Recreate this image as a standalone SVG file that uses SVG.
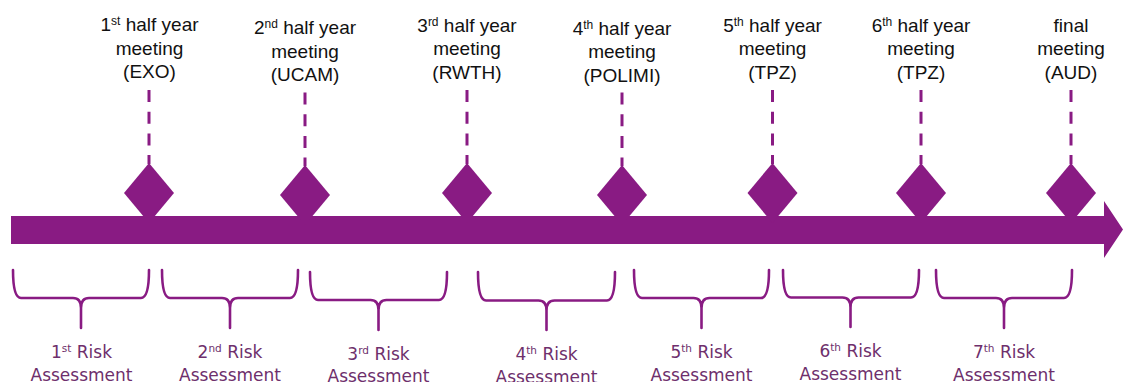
<svg xmlns="http://www.w3.org/2000/svg" width="1123" height="382" viewBox="0 0 1123 382">
<style>
.top{font-family:"Liberation Sans",Arial,sans-serif;font-size:19px;fill:#111;text-anchor:middle}
.bot{font-family:"DejaVu Sans",sans-serif;font-size:17px;fill:#6E2F6C;text-anchor:middle}
.sup{font-size:12px}
.bsup{font-size:10.5px}
.dash{stroke:#891B83;stroke-width:3;stroke-dasharray:12 9.7;fill:none}
.brace{stroke:#891B83;stroke-width:2.6;fill:none;stroke-linecap:round;stroke-linejoin:round}
.dia{fill:#891B83}
</style>
<rect width="1123" height="382" fill="#fff"/>
<g id="timeline">
<path d="M11,216 L1104,216 L1104,201 L1123,229.5 L1104,258 L1104,244 L11,244 Z" fill="#891B83"/>
</g>
<g id="connectors">
<line class="dash" x1="149" y1="90" x2="149" y2="164"/>
<line class="dash" x1="305" y1="92.5" x2="305" y2="166"/>
<line class="dash" x1="467" y1="90" x2="467" y2="164"/>
<line class="dash" x1="622" y1="92.5" x2="622" y2="166"/>
<line class="dash" x1="772.5" y1="90" x2="772.5" y2="164"/>
<line class="dash" x1="921" y1="90" x2="921" y2="164"/>
<line class="dash" x1="1071" y1="90" x2="1071" y2="164"/>
</g>
<g id="m1">
<polygon class="dia" points="149,163 174,193 149,223 124,193"/>
<text class="top" x="149.5" y="31">1<tspan class="sup" dy="-6">st</tspan><tspan dy="6"> half year</tspan></text>
<text class="top" x="149.5" y="54.5">meeting</text>
<text class="top" x="149.5" y="78">(EXO)</text>
</g>
<g id="m2">
<polygon class="dia" points="305,165 330,195 305,225 280,195"/>
<text class="top" x="305" y="34">2<tspan class="sup" dy="-6">nd</tspan><tspan dy="6"> half year</tspan></text>
<text class="top" x="305" y="57.5">meeting</text>
<text class="top" x="305" y="81">(UCAM)</text>
</g>
<g id="m3">
<polygon class="dia" points="467,163 492,193 467,223 442,193"/>
<text class="top" x="467" y="32">3<tspan class="sup" dy="-6">rd</tspan><tspan dy="6"> half year</tspan></text>
<text class="top" x="467" y="55">meeting</text>
<text class="top" x="467" y="78.5">(RWTH)</text>
</g>
<g id="m4">
<polygon class="dia" points="622,165 647,195 622,225 597,195"/>
<text class="top" x="622" y="34.5">4<tspan class="sup" dy="-6">th</tspan><tspan dy="6"> half year</tspan></text>
<text class="top" x="622" y="58">meeting</text>
<text class="top" x="622" y="81.5">(POLIMI)</text>
</g>
<g id="m5">
<polygon class="dia" points="772.5,163 797.5,193 772.5,223 747.5,193"/>
<text class="top" x="772.5" y="31.5">5<tspan class="sup" dy="-6">th</tspan><tspan dy="6"> half year</tspan></text>
<text class="top" x="772.5" y="55">meeting</text>
<text class="top" x="772.5" y="78.5">(TPZ)</text>
</g>
<g id="m6">
<polygon class="dia" points="921,163 946,193 921,223 896,193"/>
<text class="top" x="921" y="31.5">6<tspan class="sup" dy="-6">th</tspan><tspan dy="6"> half year</tspan></text>
<text class="top" x="921" y="55">meeting</text>
<text class="top" x="921" y="78.5">(TPZ)</text>
</g>
<g id="m7">
<polygon class="dia" points="1071,163 1096,193 1071,223 1046,193"/>
<text class="top" x="1071" y="31.5">final</text>
<text class="top" x="1071" y="55">meeting</text>
<text class="top" x="1071" y="78.5">(AUD)</text>
</g>
<g id="r1">
<path class="brace" d="M13,270 Q13,298 21,298 L73,298 Q81,298 81,308 L81,328 M81,308 Q81,298 89,298 L141,298 Q149,298 149,270"/>
<text class="bot" x="81.5" y="357.5">1<tspan class="bsup" dy="-6">st</tspan><tspan dy="6"> Risk</tspan></text>
<text class="bot" x="81.5" y="381">Assessment</text>
</g>
<g id="r2">
<path class="brace" d="M162,270 Q162,298 170,298 L222,298 Q230,298 230,308 L230,328 M230,308 Q230,298 238,298 L290,298 Q298,298 298,270"/>
<text class="bot" x="230" y="357.5">2<tspan class="bsup" dy="-6">nd</tspan><tspan dy="6"> Risk</tspan></text>
<text class="bot" x="230" y="381">Assessment</text>
</g>
<g id="r3">
<path class="brace" d="M310,272 Q310,300 318,300 L370.5,300 Q378.5,300 378.5,310 L378.5,330 M378.5,310 Q378.5,300 386.5,300 L439,300 Q447,300 447,272"/>
<text class="bot" x="378.5" y="359.5">3<tspan class="bsup" dy="-6">rd</tspan><tspan dy="6"> Risk</tspan></text>
<text class="bot" x="378.5" y="382">Assessment</text>
</g>
<g id="r4">
<path class="brace" d="M478,272 Q478,300.5 486,300.5 L538.5,300.5 Q546.5,300.5 546.5,310.5 L546.5,330 M546.5,310.5 Q546.5,300.5 554.5,300.5 L607,300.5 Q615,300.5 615,272"/>
<text class="bot" x="546.5" y="360">4<tspan class="bsup" dy="-6">th</tspan><tspan dy="6"> Risk</tspan></text>
<text class="bot" x="546.5" y="382.5">Assessment</text>
</g>
<g id="r5">
<path class="brace" d="M634,270 Q634,298 642,298 L693.5,298 Q701.5,298 701.5,308 L701.5,328 M701.5,308 Q701.5,298 709.5,298 L761,298 Q769,298 769,270"/>
<text class="bot" x="701.5" y="357.5">5<tspan class="bsup" dy="-6">th</tspan><tspan dy="6"> Risk</tspan></text>
<text class="bot" x="701.5" y="381">Assessment</text>
</g>
<g id="r6">
<path class="brace" d="M783,270 Q783,297.5 791,297.5 L842.5,297.5 Q850.5,297.5 850.5,307.5 L850.5,327 M850.5,307.5 Q850.5,297.5 858.5,297.5 L911,297.5 Q919,297.5 919,270"/>
<text class="bot" x="850.5" y="356.5">6<tspan class="bsup" dy="-6">th</tspan><tspan dy="6"> Risk</tspan></text>
<text class="bot" x="850.5" y="380">Assessment</text>
</g>
<g id="r7">
<path class="brace" d="M936,270 Q936,298 944,298 L996,298 Q1004,298 1004,308 L1004,328 M1004,308 Q1004,298 1012,298 L1064,298 Q1072,298 1072,270"/>
<text class="bot" x="1004" y="357.5">7<tspan class="bsup" dy="-6">th</tspan><tspan dy="6"> Risk</tspan></text>
<text class="bot" x="1004" y="381">Assessment</text>
</g>
</svg>
